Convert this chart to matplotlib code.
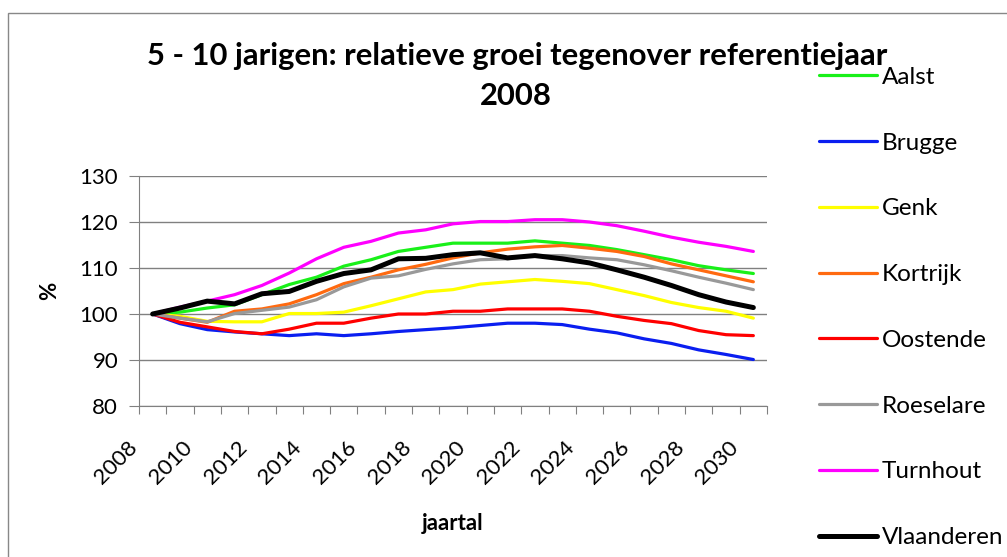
import numpy as np
import matplotlib
matplotlib.use('Agg')
import matplotlib.pyplot as plt
import matplotlib.transforms as mtransforms
from matplotlib.patches import Rectangle

plt.rcParams['font.family'] = ['Lato', 'DejaVu Sans']

W, H = 1007, 557

years = list(range(2008, 2031))
tick_labels = [str(y) if y % 2 == 0 else '' for y in years]

aalst = [100, 100.4, 101.3, 102.0, 104.2, 106.4, 108.0, 110.4, 111.8, 113.6, 114.5,
         115.4, 115.4, 115.4, 115.9, 115.4, 114.9, 114.0, 112.9, 111.8, 110.5, 109.6, 108.8]
brugge = [100, 97.9, 96.6, 96.1, 95.7, 95.3, 95.7, 95.3, 95.7, 96.2, 96.6,
          97.0, 97.5, 98.0, 98.0, 97.7, 96.7, 95.9, 94.6, 93.6, 92.2, 91.2, 90.1]
genk = [100, 99.5, 98.4, 98.3, 98.3, 100.1, 100.1, 100.4, 101.8, 103.3, 104.8,
        105.3, 106.5, 107.0, 107.5, 107.1, 106.6, 105.3, 104.0, 102.5, 101.4, 100.6, 99.1]
kortrijk = [100, 99.1, 98.2, 100.6, 101.1, 102.2, 104.2, 106.6, 108.0, 109.6, 110.8,
            112.2, 113.3, 114.1, 114.6, 114.9, 114.3, 113.6, 112.5, 110.9, 109.6, 108.3, 107.0]
oostende = [100, 98.2, 97.2, 96.2, 95.7, 96.7, 98.0, 98.0, 99.1, 100.0, 100.0,
            100.6, 100.6, 101.1, 101.1, 101.1, 100.6, 99.5, 98.6, 97.9, 96.4, 95.5, 95.3]
roeselare = [100, 99.1, 98.3, 100.1, 100.8, 101.5, 103.1, 105.9, 107.8, 108.3, 109.7,
             110.9, 111.8, 112.0, 112.7, 112.7, 112.2, 111.8, 110.7, 109.4, 108.0, 106.7, 105.3]
turnhout = [100, 101.5, 102.8, 104.2, 106.2, 108.9, 112.0, 114.5, 115.8, 117.6, 118.3,
            119.6, 120.1, 120.1, 120.5, 120.5, 120.0, 119.2, 118.0, 116.7, 115.6, 114.7, 113.6]
vlaanderen = [100, 101.3, 102.8, 102.2, 104.4, 104.9, 107.1, 108.8, 109.6, 112.0, 112.1,
              112.9, 113.3, 112.2, 112.7, 112.0, 111.1, 109.6, 108.0, 106.2, 104.2, 102.6, 101.4]

series = [
    ('Aalst', aalst, '#19f019', 2.3),
    ('Brugge', brugge, '#0a1ef0', 2.3),
    ('Genk', genk, '#ffff00', 2.3),
    ('Kortrijk', kortrijk, '#ff6a10', 2.3),
    ('Oostende', oostende, '#ff0000', 2.3),
    ('Roeselare', roeselare, '#999999', 2.3),
    ('Turnhout', turnhout, '#ff00ff', 2.3),
    ('Vlaanderen', vlaanderen, '#000000', 3.6),
]

fig = plt.figure(figsize=(W / 100, H / 100), dpi=100)
ax = fig.add_axes([139 / W, 1 - 406 / H, (767 - 139) / W, (406 - 176) / H])

x = np.arange(len(years))
for name, vals, col, lw in series:
    ax.plot(x, vals, color=col, lw=lw, label=name, solid_capstyle='round')

ax.set_xlim(-0.5, len(years) - 0.5)
ax.set_ylim(80, 130)
ax.set_yticks(range(80, 131, 10))
ax.yaxis.grid(True, color='#808080', lw=1)
ax.set_axisbelow(True)
for s in ['top', 'right']:
    ax.spines[s].set_visible(False)
for s in ['left', 'bottom']:
    ax.spines[s].set_color('#808080')

# category axis: tick marks between categories, labels hung below the centres
ax.set_xticks(np.arange(-0.5, len(years)))
ax.set_xticklabels([])
ax.tick_params(axis='x', length=6, color='#808080')
lab_trans = ax.get_xaxis_transform() + mtransforms.ScaledTranslation(-25 / 100, -31 / 100, fig.dpi_scale_trans)
for xi, lab in zip(x, tick_labels):
    ax.text(xi, 0, lab, transform=lab_trans, rotation=45, ha='right', va='top',
            rotation_mode='anchor', fontsize=16)
ax.tick_params(axis='y', length=7, color='#808080', labelsize=16, pad=8)

fig.text(50 / W, 1 - 291 / H, '%', rotation=90, ha='center', va='center',
         fontsize=16, fontweight='bold')
fig.text(453 / W, 1 - 530 / H, 'jaartal', ha='center', va='baseline',
         fontsize=16, fontweight='bold')

fig.text(517 / W, 1 - 65 / H, '5 - 10 jarigen: relatieve groei tegenover referentiejaar',
         ha='center', va='baseline', fontsize=22.3, fontweight='bold')
fig.text(516 / W, 1 - 105 / H, '2008', ha='center', va='baseline',
         fontsize=22.3, fontweight='bold')

fig.legend(loc='upper left', bbox_to_anchor=(797 / W, 1 - 45 / H), frameon=False,
           fontsize=17.5, handlelength=2.4, handletextpad=0.2, labelspacing=1.84)

fig.patches.append(Rectangle((8 / W, -0.1), 1.2, 1.1 - 13 / H, transform=fig.transFigure,
                             fill=False, edgecolor='#888888', lw=1))

fig.savefig('out.png', dpi=100)
